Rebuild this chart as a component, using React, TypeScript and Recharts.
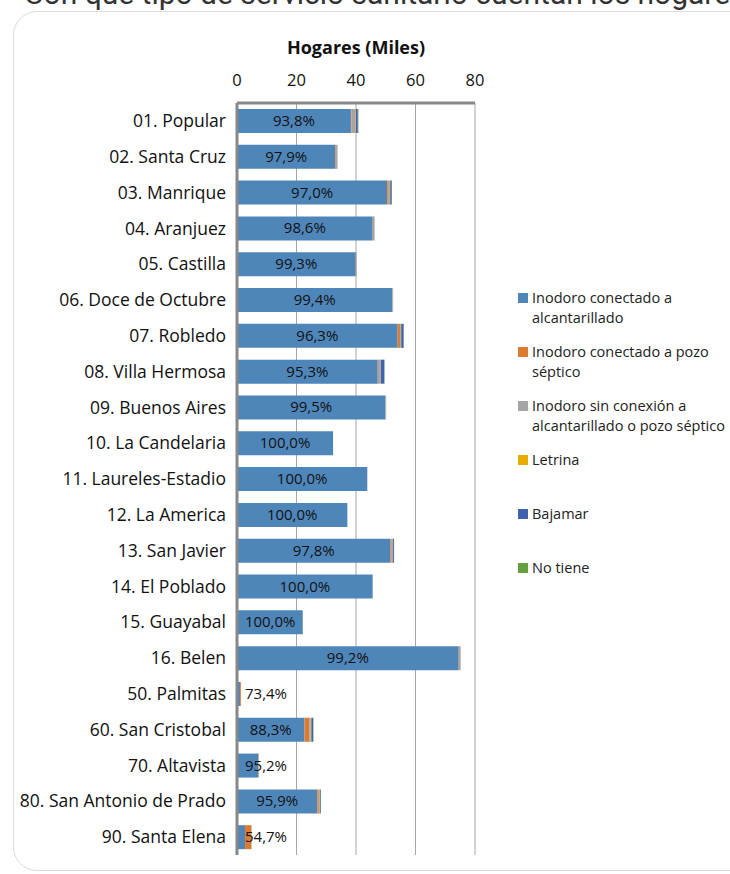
import { BarChart, Bar, XAxis, YAxis, CartesianGrid, LabelList } from 'recharts';

const categories = [
  '01. Popular',
  '02. Santa Cruz',
  '03. Manrique',
  '04. Aranjuez',
  '05. Castilla',
  '06. Doce de Octubre',
  '07. Robledo',
  '08. Villa Hermosa',
  '09. Buenos Aires',
  '10. La Candelaria',
  '11. Laureles-Estadio',
  '12. La America',
  '13. San Javier',
  '14. El Poblado',
  '15. Guayabal',
  '16. Belen',
  '50. Palmitas',
  '60. San Cristobal',
  '70. Altavista',
  '80. San Antonio de Prado',
  '90. Santa Elena',
];

// Hogares (miles) por tipo de servicio sanitario
const alcantarillado = [38.3, 33.1, 50.5, 45.6, 39.9, 52.2, 54.0, 47.3, 49.9, 32.3, 43.8, 37.1, 51.6, 45.6, 22.1, 74.5, 1.0, 22.7, 7.05, 27.0, 2.7];
const pozoSeptico = [0.2, 0.2, 0.5, 0.1, 0.1, 0.05, 0.8, 0.1, 0.05, 0, 0, 0, 0.4, 0, 0, 0.1, 0.3, 1.6, 0.1, 0.5, 2.0];
const sinConexion = [1.4, 0.5, 0.4, 0.5, 0.2, 0.25, 0.3, 0.9, 0.2, 0, 0, 0, 0.3, 0, 0, 0.5, 0.05, 0.5, 0.2, 0.3, 0.15];
const letrina = [0.1, 0, 0.1, 0, 0, 0, 0.1, 0.05, 0, 0, 0, 0, 0.05, 0, 0, 0, 0, 0.2, 0, 0.05, 0.05];
const bajamar = [0.6, 0, 0.5, 0.05, 0, 0, 0.8, 1.2, 0, 0, 0, 0, 0.4, 0, 0, 0.05, 0, 0.6, 0, 0.3, 0];
const noTiene = [0.2, 0, 0.1, 0, 0, 0, 0.1, 0.05, 0, 0, 0, 0, 0.05, 0, 0, 0, 0.02, 0.1, 0.05, 0.05, 0.05];
const pctLabels = ['93,8%', '97,9%', '97,0%', '98,6%', '99,3%', '99,4%', '96,3%', '95,3%', '99,5%', '100,0%', '100,0%', '100,0%', '97,8%', '100,0%', '100,0%', '99,2%', '73,4%', '88,3%', '95,2%', '95,9%', '54,7%'];
const xTicks = [0, 20, 40, 60, 80];

const series = [
  { key: 'alcantarillado', name: 'Inodoro conectado a alcantarillado', color: '#4F86BA', lines: ['Inodoro conectado a', 'alcantarillado'] },
  { key: 'pozo', name: 'Inodoro conectado a pozo séptico', color: '#E07A2E', lines: ['Inodoro conectado a pozo', 'séptico'] },
  { key: 'sinConexion', name: 'Inodoro sin conexión a alcantarillado o pozo séptico', color: '#A5A5A5', lines: ['Inodoro sin conexión a', 'alcantarillado o pozo séptico'] },
  { key: 'letrina', name: 'Letrina', color: '#E8AC00', lines: ['Letrina'] },
  { key: 'bajamar', name: 'Bajamar', color: '#3E62AD', lines: ['Bajamar'] },
  { key: 'noTiene', name: 'No tiene', color: '#67A03E', lines: ['No tiene'] },
];

const data = categories.map((name, i) => ({
  name,
  alcantarillado: alcantarillado[i],
  pozo: pozoSeptico[i],
  sinConexion: sinConexion[i],
  letrina: letrina[i],
  bajamar: bajamar[i],
  noTiene: noTiene[i],
}));

const FONT = '"Open Sans", "Noto Sans", sans-serif';

function PctLabel(props: any) {
  const { x, y, width, height, index } = props;
  const text = pctLabels[index];
  const textW = text.length * 8.4;
  const cx = Math.max(x + width / 2, x + 8 + textW / 2);
  return (
    <text x={cx} y={y + height / 2} dy={5} textAnchor="middle" fontSize={15} fill="#111" fontFamily={FONT}>
      {text}
    </text>
  );
}

function LegendBox() {
  return (
    <div style={{ position: 'absolute', left: 518, top: 288, width: 212, fontFamily: FONT, fontSize: 14.5, color: '#222' }}>
      {series.map((s) => (
        <div key={s.key} style={{ display: 'flex', height: 54, alignItems: 'flex-start' }}>
          <span style={{ width: 10, height: 10, background: s.color, marginTop: 5, marginRight: 4, flex: 'none' }} />
          <span style={{ lineHeight: '20px', whiteSpace: 'nowrap' }}>
            {s.lines.map((l) => (
              <div key={l}>{l}</div>
            ))}
          </span>
        </div>
      ))}
    </div>
  );
}

export default function App() {
  return (
    <div style={{ position: 'absolute', left: 0, top: 0, width: 730, height: 874, overflow: 'hidden', background: '#fff' }}>
      <div
        style={{
          position: 'absolute',
          left: 24,
          top: -24,
          fontFamily: 'Roboto, sans-serif',
          fontSize: 30,
          color: '#333',
          whiteSpace: 'nowrap',
        }}
      >
        Con que tipo de servicio sanitario cuentan los hogares
      </div>
      <div
        style={{
          position: 'absolute',
          left: 13,
          top: 11,
          width: 780,
          height: 858,
          border: '1px solid #DCDCDC',
          borderRadius: 24,
        }}
      />
      <div
        style={{
          position: 'absolute',
          left: 237,
          width: 238,
          top: 35,
          textAlign: 'center',
          fontFamily: FONT,
          fontWeight: 700,
          fontSize: 18,
          color: '#111',
        }}
      >
        Hogares (Miles)
      </div>
      <div style={{ position: 'absolute', left: 0, top: 0 }}>
        <BarChart
          width={730}
          height={874}
          data={data}
          layout="vertical"
          barSize={24}
          margin={{ top: 73, right: 255, left: 0, bottom: 19 }}
        >
          <CartesianGrid horizontal={false} stroke="#A6A6A6" />
          <XAxis
            type="number"
            orientation="top"
            domain={[0, 80]}
            ticks={xTicks}
            height={30}
            tickLine={false}
            axisLine={{ stroke: '#888', strokeWidth: 3 }}
            tick={{ fontSize: 16.5, fill: '#111', fontFamily: FONT, dy: -10 }}
            tickMargin={1}
          />
          <YAxis
            type="category"
            dataKey="name"
            width={237}
            interval={0}
            tickLine={false}
            axisLine={{ stroke: '#888', strokeWidth: 3 }}
            tick={{ fontSize: 17.5, fill: '#111', fontFamily: FONT }}
            tickMargin={5}
          />
          {series.map((s) => (
            <Bar key={s.key} dataKey={s.key} name={s.name} stackId="a" fill={s.color} isAnimationActive={false}>
              {s.key === 'alcantarillado' && <LabelList dataKey="alcantarillado" content={PctLabel} />}
            </Bar>
          ))}
        </BarChart>
      </div>
      <LegendBox />
    </div>
  );
}
